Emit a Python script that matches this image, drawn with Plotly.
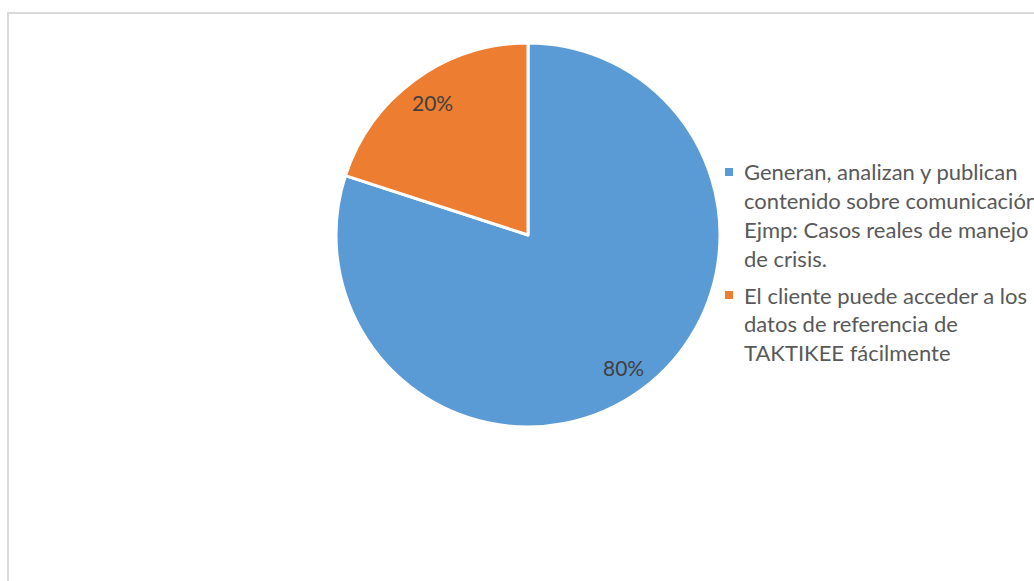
import math
import plotly.graph_objects as go

# Slice data
categories = [
    "Generan, analizan y publican contenido sobre comunicación. Ejmp: Casos reales de manejo de crisis.",
    "El cliente puede acceder a los datos de referencia de TAKTIKEE fácilmente",
]
legend_lines = [
    ["Generan, analizan y publican", "contenido sobre comunicación.", "Ejmp: Casos reales de manejo", "de crisis."],
    ["El cliente puede acceder a los", "datos de referencia de", "TAKTIKEE fácilmente"],
]
values = [80, 20]
colors = ["#5B9BD5", "#ED7D31"]

W, H = 1034, 581
cx, cy, r = 528, 235, 192  # pie centre and radius in px (from top-left)
FONT = "Lato"

fig = go.Figure(go.Pie(
    labels=categories,
    values=values,
    marker=dict(colors=colors, line=dict(color="white", width=3)),
    sort=False,
    direction="clockwise",
    rotation=0,
    textinfo="none",
    hoverinfo="label+percent",
    domain=dict(x=[(cx - r) / W, (cx + r) / W],
                y=[(H - cy - r) / H, (H - cy + r) / H]),
    showlegend=False,
))

annotations = []
shapes = []

# Percentage labels placed along each slice's mid-angle
total = sum(values)
start = 0.0
for v in values:
    frac = v / total
    mid = (start + frac / 2) * 2 * math.pi
    start += frac
    d = 0.85 * r
    x = cx + d * math.sin(mid)
    y = cy - d * math.cos(mid)
    annotations.append(dict(
        x=x / W, y=1 - y / H, xref="paper", yref="paper",
        text=f"{round(frac * 100)}%", showarrow=False,
        font=dict(family=FONT, size=21, color="#404040"),
        xanchor="center", yanchor="middle",
    ))

# Legend: square marker + wrapped text lines
lx_marker, lx_text = 729, 742
line_h = 28.7
item_y = [172, 295]
for lines, col, y0 in zip(legend_lines, colors, item_y):
    shapes.append(dict(type="rect", xref="paper", yref="paper",
                       x0=(lx_marker - 4) / W, x1=(lx_marker + 4) / W,
                       y0=1 - (y0 + 4) / H, y1=1 - (y0 - 4) / H,
                       fillcolor=col, line=dict(width=0)))
    for i, t in enumerate(lines):
        annotations.append(dict(
            x=lx_text / W, y=1 - (y0 + i * line_h) / H,
            xref="paper", yref="paper", text=t, showarrow=False,
            font=dict(family=FONT, size=22, color="#595959"),
            xanchor="left", yanchor="middle",
        ))

# Chart area frame
shapes.append(dict(type="rect", xref="paper", yref="paper",
                   x0=8 / W, x1=1.05, y0=-0.05, y1=1 - 13 / H,
                   line=dict(color="#D9D9D9", width=2), fillcolor="rgba(0,0,0,0)",
                   layer="below"))

fig.update_layout(
    width=W, height=H,
    margin=dict(l=0, r=0, t=0, b=0),
    paper_bgcolor="white",
    plot_bgcolor="white",
    annotations=annotations,
    shapes=shapes,
)

fig.write_html("out.html")
